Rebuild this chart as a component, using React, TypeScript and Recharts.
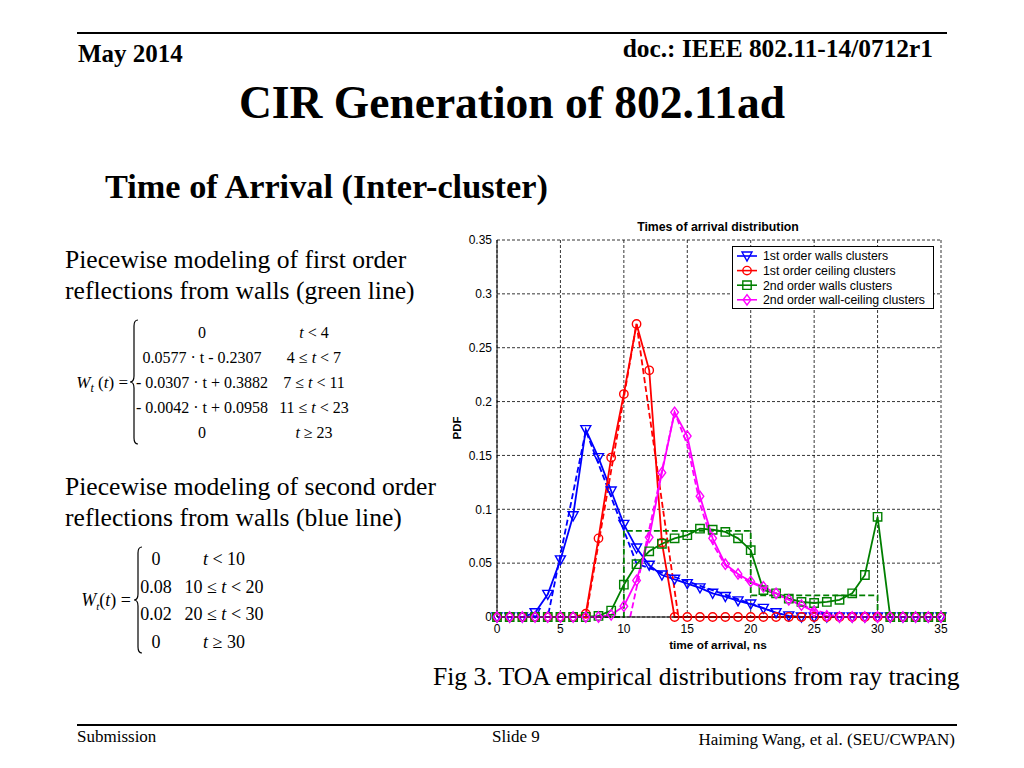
import React from 'react';
import { LineChart, Line, XAxis, YAxis, CartesianGrid, Legend } from 'recharts';

// ---------- data ----------
const timeNs = [0, 1, 2, 3, 4, 5, 6, 7, 8, 9, 10, 11, 12, 13, 14, 15, 16, 17, 18, 19, 20, 21, 22, 23, 24, 25, 26, 27, 28, 29, 30, 31, 32, 33, 34, 35];

const walls1st = [0, 0, 0, 0.004, 0.021, 0.053, 0.094, 0.174, 0.148, 0.117, 0.086, 0.064, 0.048, 0.039, 0.035, 0.031, 0.027, 0.022, 0.019, 0.015, 0.012, 0.008, 0.004, 0.001, 0, 0, 0, 0, 0, 0, 0, 0, 0, 0, 0, 0];
const ceiling1st = [0, 0, 0, 0, 0, 0, 0, 0.003, 0.073, 0.148, 0.207, 0.272, 0.229, 0.069, 0, 0, 0, 0, 0, 0, 0, 0, 0, 0, 0, 0, 0, 0, 0, 0, 0, 0, 0, 0, 0, 0];
const walls2nd = [0, 0, 0, 0, 0, 0, 0, 0, 0.001, 0.006, 0.030, 0.049, 0.061, 0.068, 0.073, 0.076, 0.082, 0.081, 0.079, 0.073, 0.062, 0.025, 0.022, 0.017, 0.014, 0.013, 0.014, 0.016, 0.022, 0.039, 0.093, 0, 0, 0, 0, 0];
const wallCeiling2nd = [0, 0, 0, 0, 0, 0, 0, 0, 0, 0.002, 0.010, 0.034, 0.074, 0.134, 0.190, 0.168, 0.112, 0.073, 0.049, 0.040, 0.033, 0.028, 0.022, 0.016, 0.011, 0.005, 0.001, 0, 0, 0, 0, 0, 0, 0, 0, 0];

// fitted (dashed) models
const walls1stModelT = [0, 4, 7, 11, 23, 35];
const walls1stModelV = [0, 0, 0.173, 0.0496, 0, 0];
const ceiling1stModelT = [7, 11, 14.3];
const ceiling1stModelV = [0, 0.272, 0];
const walls2ndModelT = [0, 10, 20, 30, 35];
const walls2ndModelV = [0, 0.08, 0.02, 0, 0];
const wallCeiling2ndModelT = [10.5, 14, 15, 16, 17, 18, 19, 20, 21, 22, 23, 24, 25, 26, 27];
const wallCeiling2ndModelV = [0, 0.19, 0.16, 0.105, 0.068, 0.048, 0.038, 0.032, 0.027, 0.021, 0.016, 0.011, 0.007, 0.003, 0];

const xTicks = [0, 5, 10, 15, 20, 25, 30, 35];
const yTicks = [0, 0.05, 0.1, 0.15, 0.2, 0.25, 0.3, 0.35];
const yTickLabels = ['0', '0.05', '0.1', '0.15', '0.2', '0.25', '0.3', '0.35'];

const seriesNames = ['1st order walls clusters', '1st order ceiling clusters', '2nd order walls clusters', '2nd order wall-ceiling clusters'];

// ---------- helpers ----------
const toPts = (ts: number[], vs: number[]) => ts.map((t, i) => ({ t, v: vs[i] }));

type MarkerKind = 'tri' | 'circle' | 'square' | 'diamond';

const markerPath = (kind: MarkerKind, cx: number, cy: number) => {
  switch (kind) {
    case 'tri':
      return `M${cx - 5},${cy - 4} L${cx + 5},${cy - 4} L${cx},${cy + 5} Z`;
    case 'square':
      return `M${cx - 4.2},${cy - 4.2} L${cx + 4.2},${cy - 4.2} L${cx + 4.2},${cy + 4.2} L${cx - 4.2},${cy + 4.2} Z`;
    case 'diamond':
      return `M${cx},${cy - 5.2} L${cx + 3.8},${cy} L${cx},${cy + 5.2} L${cx - 3.8},${cy} Z`;
    default:
      return '';
  }
};

const Marker = ({ kind, cx, cy, color }: { kind: MarkerKind; cx: number; cy: number; color: string }) =>
  kind === 'circle' ? (
    <circle cx={cx} cy={cy} r={4.2} fill="none" stroke={color} strokeWidth={1.4} />
  ) : (
    <path d={markerPath(kind, cx, cy)} fill="none" stroke={color} strokeWidth={1.4} />
  );

const makeDot = (kind: MarkerKind, color: string) => (props: any) => {
  const { cx, cy, index } = props;
  if (cx == null || cy == null) return <g key={`e-${kind}-${index}`} />;
  return (
    <g key={`d-${kind}-${index}`}>
      <Marker kind={kind} cx={cx} cy={cy} color={color} />
    </g>
  );
};

const series = [
  { name: seriesNames[0], color: '#0000ff', kind: 'tri' as MarkerKind, data: toPts(timeNs, walls1st), model: toPts(walls1stModelT, walls1stModelV), modelType: 'linear' },
  { name: seriesNames[1], color: '#ff0000', kind: 'circle' as MarkerKind, data: toPts(timeNs, ceiling1st), model: toPts(ceiling1stModelT, ceiling1stModelV), modelType: 'linear' },
  { name: seriesNames[2], color: '#007f00', kind: 'square' as MarkerKind, data: toPts(timeNs, walls2nd), model: toPts(walls2ndModelT, walls2ndModelV), modelType: 'stepAfter' },
  { name: seriesNames[3], color: '#ff00ff', kind: 'diamond' as MarkerKind, data: toPts(timeNs, wallCeiling2nd), model: toPts(wallCeiling2ndModelT, wallCeiling2ndModelV), modelType: 'linear' },
];

const LegendBox = () => (
  <div style={{ width: 202, height: 63, border: '1px solid #000', background: '#fff', boxSizing: 'border-box' }}>
    <svg width={200} height={61} style={{ display: 'block' }}>
      {series.map((s, i) => {
        const y = 9 + i * 14.6;
        return (
          <g key={s.name}>
            <line x1={4} x2={24} y1={y} y2={y} stroke={s.color} strokeWidth={1.6} />
            <Marker kind={s.kind} cx={14} cy={y} color={s.color} />
            <text x={30} y={y + 4.3} fontSize={12.3} fontFamily="'Liberation Sans', Arial, sans-serif" fill="#000">
              {s.name}
            </text>
          </g>
        );
      })}
    </svg>
  </div>
);

const serif = "'Liberation Serif', 'Times New Roman', serif";
const sans = "'Liberation Sans', Arial, sans-serif";

const brace = (x: number, y1: number, y2: number) => {
  const mid = (y1 + y2) / 2;
  return `M${x + 4},${y1} Q${x},${y1} ${x},${y1 + 6} L${x},${mid - 6} Q${x},${mid} ${x - 4},${mid} Q${x},${mid} ${x},${mid + 6} L${x},${y2 - 6} Q${x},${y2} ${x + 4},${y2}`;
};

const eq1Left = ['0', '0.0577 \u00b7 t - 0.2307', '- 0.0307 \u00b7 t + 0.3882', '- 0.0042 \u00b7 t + 0.0958', '0'];
const eq1Right: [string, string][] = [['', ' < 4'], ['4 \u2264 ', ' < 7'], ['7 \u2264 ', ' < 11'], ['11 \u2264 ', ' < 23'], ['', ' \u2265 23']];
const eq2Left = ['0', '0.08', '0.02', '0'];
const eq2Right: [string, string][] = [['', ' < 10'], ['10 \u2264 ', ' < 20'], ['20 \u2264 ', ' < 30'], ['', ' \u2265 30']];

export default function App() {
  return (
    <div style={{ position: 'absolute', left: 0, top: 0, width: 1024, height: 768, background: '#fff', overflow: 'hidden' }}>
      <svg width={1024} height={768} style={{ position: 'absolute', left: 0, top: 0 }}>
        {/* header */}
        <line x1={77} x2={947} y1={33} y2={33} stroke="#000" strokeWidth={2} />
        <text x={78} y={62} fontSize={25} fontWeight="bold" fontFamily={serif}>May 2014</text>
        <text x={933} y={57} fontSize={25.4} fontWeight="bold" fontFamily={serif} textAnchor="end">doc.: IEEE 802.11-14/0712r1</text>
        <text x={512} y={118} fontSize={45.5} fontWeight="bold" fontFamily={serif} textAnchor="middle">CIR Generation of 802.11ad</text>
        <text x={105} y={198} fontSize={34.3} fontWeight="bold" fontFamily={serif}>Time of Arrival (Inter-cluster)</text>

        {/* left text */}
        <text x={65} y={268} fontSize={25.6} fontFamily={serif}>Piecewise modeling of first order</text>
        <text x={65} y={299} fontSize={25.6} fontFamily={serif}>reflections from walls (green line)</text>
        <text x={65} y={495} fontSize={25.6} fontFamily={serif}>Piecewise modeling of second order</text>
        <text x={65} y={526} fontSize={25.6} fontFamily={serif}>reflections from walls (blue line)</text>

        {/* equation 1 */}
        <text x={128} y={388} fontSize={17} fontFamily={serif} textAnchor="end">
          <tspan fontStyle="italic">W</tspan>
          <tspan fontStyle="italic" fontSize={12} dy={4}>t</tspan>
          <tspan dy={-4}> (</tspan>
          <tspan fontStyle="italic">t</tspan>
          <tspan>) =</tspan>
        </text>
        <path d={brace(134, 320, 444)} fill="none" stroke="#000" strokeWidth={1.2} />
        {eq1Left.map((s, i) => (
          <text key={`e1l${i}`} x={202} y={338 + i * 25} fontSize={16} fontFamily={serif} textAnchor="middle">{s}</text>
        ))}
        {eq1Right.map((r, i) => (
          <text key={`e1r${i}`} x={314} y={338 + i * 25} fontSize={16} fontFamily={serif} textAnchor="middle">
            {r[0]}<tspan fontStyle="italic">t</tspan>{r[1]}
          </text>
        ))}

        {/* equation 2 */}
        <text x={131} y={606} fontSize={18} fontFamily={serif} textAnchor="end">
          <tspan fontStyle="italic">W</tspan>
          <tspan fontStyle="italic" fontSize={11} dy={4}>t</tspan>
          <tspan dy={-4}>(</tspan>
          <tspan fontStyle="italic">t</tspan>
          <tspan>) =</tspan>
        </text>
        <path d={brace(138, 547, 653)} fill="none" stroke="#000" strokeWidth={1.2} />
        {eq2Left.map((s, i) => (
          <text key={`e2l${i}`} x={156} y={565 + i * 27.7} fontSize={18} fontFamily={serif} textAnchor="middle">{s}</text>
        ))}
        {eq2Right.map((r, i) => (
          <text key={`e2r${i}`} x={224} y={565 + i * 27.7} fontSize={18} fontFamily={serif} textAnchor="middle">
            {r[0]}<tspan fontStyle="italic">t</tspan>{r[1]}
          </text>
        ))}

        {/* chart labels */}
        <text x={718} y={231} fontSize={12.3} fontWeight="bold" fontFamily={sans} textAnchor="middle">Times of arrival distribution</text>
        <text x={461} y={428} fontSize={11.5} fontWeight="bold" fontFamily={sans} textAnchor="middle" transform="rotate(-90 461 428)">PDF</text>
        <text x={718} y={649} fontSize={11.8} fontWeight="bold" fontFamily={sans} textAnchor="middle">time of arrival, ns</text>

        {/* caption */}
        <text x={433} y={685} fontSize={25.6} fontFamily={serif}>Fig 3. TOA empirical distributions from ray tracing</text>

        {/* footer */}
        <line x1={77} x2={957} y1={725} y2={725} stroke="#000" strokeWidth={2} />
        <text x={77} y={742} fontSize={17} fontFamily={serif}>Submission</text>
        <text x={492} y={742} fontSize={17} fontFamily={serif}>Slide 9</text>
        <text x={955} y={745} fontSize={17} fontFamily={serif} textAnchor="end">Haiming Wang, et al. (SEU/CWPAN)</text>
      </svg>

      <div style={{ position: 'absolute', left: 440, top: 215 }}>
        <LineChart width={520} height={450} margin={{ top: 25, right: 19, bottom: 0, left: 0 }}>
          <CartesianGrid stroke="#000" strokeWidth={0.8} strokeDasharray="3 2" />
          <XAxis
            dataKey="t"
            type="number"
            domain={[0, 35]}
            ticks={xTicks}
            interval={0}
            height={48}
            tickLine={false}
            tickSize={0}
            tickMargin={7}
            axisLine={{ stroke: '#000' }}
            tick={{ fill: '#000', fontSize: 12, fontFamily: sans }}
            allowDuplicatedCategory={false}
          />
          <YAxis
            type="number"
            domain={[0, 0.35]}
            ticks={yTicks}
            interval={0}
            width={57}
            tickLine={false}
            tickSize={0}
            tickMargin={5}
            axisLine={{ stroke: '#000' }}
            tick={{ fill: '#000', fontSize: 12, fontFamily: sans }}
            tickFormatter={(v: number) => {
              const i = yTicks.indexOf(v);
              return i >= 0 ? yTickLabels[i] : String(v);
            }}
          />
          <XAxis xAxisId="top" orientation="top" type="number" domain={[0, 35]} height={0} tick={false} tickLine={false} axisLine={{ stroke: '#000' }} />
          <YAxis yAxisId="right" orientation="right" type="number" domain={[0, 0.35]} width={0} tick={false} tickLine={false} axisLine={{ stroke: '#000' }} />
          {series.map((s) => [
            <Line
              key={`${s.name}-solid`}
              data={s.data}
              dataKey="v"
              type="linear"
              stroke={s.color}
              strokeWidth={1.8}
              dot={makeDot(s.kind, s.color)}
              activeDot={false}
              isAnimationActive={false}
              legendType="none"
            />,
            <Line
              key={`${s.name}-model`}
              data={s.model}
              dataKey="v"
              type={s.modelType as any}
              stroke={s.color}
              strokeWidth={1.8}
              strokeDasharray="6 3"
              dot={false}
              activeDot={false}
              isAnimationActive={false}
              legendType="none"
            />,
          ])}
          <Legend
            layout="horizontal"
            verticalAlign="middle"
            align="center"
            wrapperStyle={{ position: 'absolute', left: 292, top: 31, width: 202, height: 63 }}
            content={() => <LegendBox />}
          />
        </LineChart>
      </div>
    </div>
  );
}
